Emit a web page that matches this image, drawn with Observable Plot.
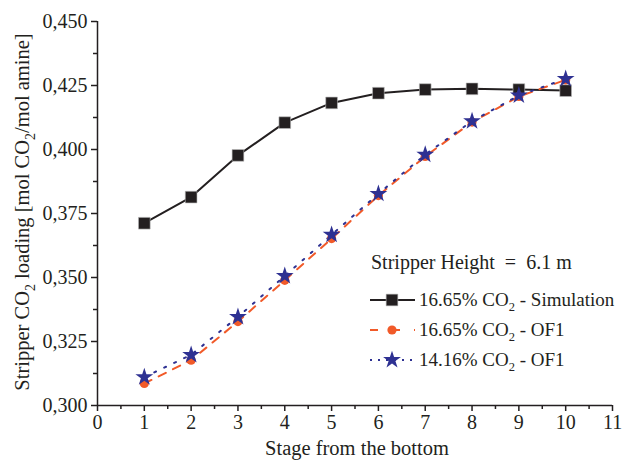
<!DOCTYPE html>
<html>
<head>
<meta charset="utf-8">
<script src="https://cdn.jsdelivr.net/npm/d3@7"></script>
<script src="https://cdn.jsdelivr.net/npm/@observablehq/plot@0.6"></script>
<style>
  html, body { margin: 0; padding: 0; background: white; }
</style>
</head>
<body>
<div id="chart"></div>
<script>
// ---- data ----
const stages = [1, 2, 3, 4, 5, 6, 7, 8, 9, 10];
const simulation1665 = [0.3712, 0.3814, 0.3977, 0.4105, 0.4182, 0.4220, 0.4234, 0.4237, 0.4234, 0.4230];
const of1_1665 = [0.3086, 0.3177, 0.3328, 0.3489, 0.3652, 0.3820, 0.3973, 0.4107, 0.4207, 0.4272];
const of1_1416 = [0.3111, 0.3198, 0.3346, 0.3506, 0.3667, 0.3827, 0.3980, 0.4111, 0.4211, 0.4276];
const xTicks = [0, 1, 2, 3, 4, 5, 6, 7, 8, 9, 10, 11];
const xMinorTicks = [0.5, 1.5, 2.5, 3.5, 4.5, 5.5, 6.5, 7.5, 8.5, 9.5, 10.5];
const yTicks = [0.300, 0.325, 0.350, 0.375, 0.400, 0.425, 0.450];
const yMinorTicks = [0.3125, 0.3375, 0.3625, 0.3875, 0.4125, 0.4375];
const seriesNames = ["16.65% CO|2| - Simulation", "16.65% CO|2| - OF1", "14.16% CO|2| - OF1"];
const annotation = "Stripper Height \u00a0=\u00a0 6.1 m";
const xLabel = "Stage from the bottom";
const yLabel = "Stripper CO|2| loading [mol CO|2|/mol amine]";

const colors = { sim: "#231f20", of1: "#f15a29", of2: "#2e3192" };

const toRows = (vals) => stages.map((s, i) => ({ x: s, y: vals[i] }));
const simRows = toRows(simulation1665);
const of1Rows = toRows(of1_1665);
const of2Rows = toRows(of1_1416);

const fmt = (d) => d3.format(".3f")(d).replace(".", ",");
const font = "Liberation Serif";

const chart = Plot.plot({
  width: 623,
  height: 461,
  marginLeft: 97,
  marginRight: 11,
  marginTop: 21,
  marginBottom: 56,
  x: { domain: [0, 11] },
  y: { domain: [0.3, 0.45] },
  style: { fontFamily: font, fontSize: "20px", color: "#231f20", background: "white", overflow: "visible" },
  marks: [
    Plot.axisX({ ticks: xTicks, tickSize: 6, tickPadding: 3, tickFormat: (d) => String(d), label: null, fontSize: 20, strokeWidth: 1.5 }),
    Plot.axisX({ ticks: xMinorTicks, tickSize: 4, tickFormat: () => "", label: null, strokeWidth: 1.5 }),
    Plot.axisY({ ticks: yTicks, tickSize: 6, tickPadding: 4, tickFormat: fmt, label: null, fontSize: 20, strokeWidth: 1.5 }),
    Plot.axisY({ ticks: yMinorTicks, tickSize: 4, tickFormat: () => "", label: null, strokeWidth: 1.5 }),
    Plot.ruleX([0], { stroke: "#231f20", strokeWidth: 1.5 }),
    Plot.ruleY([0.3], { stroke: "#231f20", strokeWidth: 1.5 }),
    Plot.line(simRows, { x: "x", y: "y", stroke: colors.sim, strokeWidth: 2 }),
    Plot.line(of1Rows, { x: "x", y: "y", stroke: colors.of1, strokeWidth: 2, strokeDasharray: "8,8" }),
    Plot.line(of2Rows, { x: "x", y: "y", stroke: colors.of2, strokeWidth: 2, strokeDasharray: "2,9" }),
    Plot.dot(simRows, { x: "x", y: "y", symbol: "square", r: 6.6, fill: colors.sim, stroke: "#bbb", strokeWidth: 0.6 }),
    Plot.dot(of1Rows, { x: "x", y: "y", symbol: "circle", r: 4.6, fill: colors.of1 }),
    Plot.dot(of2Rows, { x: "x", y: "y", symbol: "star", r: 5.6, fill: colors.of2 })
  ]
});

document.getElementById("chart").appendChild(chart);

// ---- labels & legend (real text with subscripts) ----
const svg = d3.select(chart);

function addSubText(sel, str, subSize, shift) {
  const parts = str.split("|");
  parts.forEach((p, i) => {
    if (i % 2 === 1) {
      sel.append("tspan").attr("dy", shift).attr("font-size", subSize).text(p);
    } else {
      const t = sel.append("tspan").text(p);
      if (i > 0) t.attr("dy", -shift);
    }
  });
}

svg.append("text")
  .attr("x", 357).attr("y", 455)
  .attr("text-anchor", "middle")
  .attr("font-family", font).attr("font-size", 20.5).attr("fill", "#231f20")
  .text(xLabel);

const yl = svg.append("text")
  .attr("transform", "translate(29,212) rotate(-90)")
  .attr("text-anchor", "middle")
  .attr("font-family", font).attr("font-size", 20.5).attr("fill", "#231f20");
addSubText(yl, yLabel, 14, 6);

const lg = svg.append("g")
  .attr("font-family", font).attr("font-size", 19).attr("fill", "#231f20")
  .attr("text-anchor", "start");
lg.append("text").attr("x", 371).attr("y", 269).attr("font-size", 20).attr("text-anchor", "start").text(annotation);

const rows = [
  { y: 300, color: colors.sim, dash: null, symbol: d3.symbolSquare, r: 6.6, stroke: "#bbb" },
  { y: 330, color: colors.of1, dash: "8,14", symbol: d3.symbolCircle, r: 4.6, stroke: null },
  { y: 360, color: colors.of2, dash: "2,6", symbol: d3.symbolStar, r: 5.6, stroke: null }
];
rows.forEach((row, i) => {
  lg.append("line")
    .attr("x1", 370).attr("x2", 415).attr("y1", row.y).attr("y2", row.y)
    .attr("stroke", row.color).attr("stroke-width", 2)
    .attr("stroke-dasharray", row.dash);
  lg.append("path")
    .attr("transform", `translate(392,${row.y})`)
    .attr("d", d3.symbol(row.symbol, row.r * row.r * Math.PI)())
    .attr("fill", row.color)
    .attr("stroke", row.stroke).attr("stroke-width", 0.6);
  const t = lg.append("text").attr("x", 419).attr("y", row.y + 6).attr("text-anchor", "start");
  addSubText(t, seriesNames[i], 12.5, 5);
});
</script>
</body>
</html>
